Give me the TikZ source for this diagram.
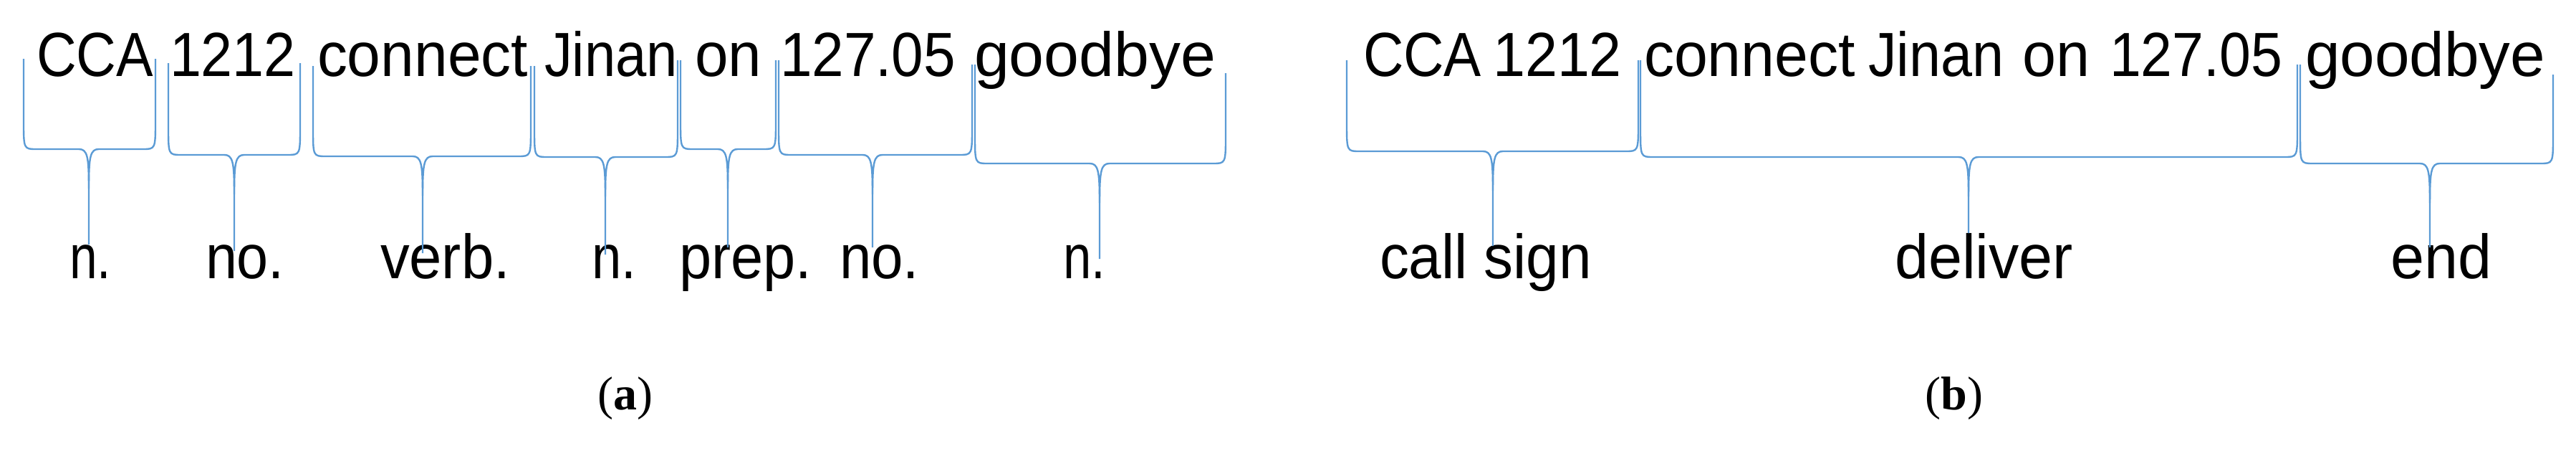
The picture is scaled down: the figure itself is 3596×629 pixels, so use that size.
\documentclass[tikz,border=0pt]{standalone}
\usepackage{fontspec}
\usepackage{graphicx}
\setmainfont{Liberation Sans}
\newfontfamily\capfont{Liberation Serif}
\definecolor{brblue}{RGB}{91,155,213}
\newcommand{\brc}[7]{%
  \draw[brc] (#1,#4) -- (#1,#6-40) .. controls (#1,#6) and (#1,#6) .. (#1+18,#6)
    -- (#3-14,#6) .. controls (#3-2,#6) and (#3,#6+10) .. (#3,#6+55) -- (#3,#7);
  \draw[brc] (#2,#5) -- (#2,#6-40) .. controls (#2,#6) and (#2,#6) .. (#2-18,#6)
    -- (#3+14,#6) .. controls (#3+2,#6) and (#3,#6+10) .. (#3,#6+55);}
\newcommand{\wrdn}[5]{\node[wrd] (#1) at (#2,#4) {\resizebox{#3pt}{\height}{#5}};}
\begin{document}
\begin{tikzpicture}[x=1pt,y=-1pt,
  brc/.style={draw=brblue,line width=2.4pt},
  wrd/.style={anchor=base west,inner sep=0pt,outer sep=0pt,font=\fontsize{87}{90}\selectfont}]
\useasboundingbox (0,0) rectangle (3596,629);
% (a) top words
\wrdn{a1}{51}{163}{106}{CCA}
\wrdn{a2}{237}{176}{106}{1212}
\wrdn{a3}{443}{294}{106}{connect}
\wrdn{a4}{760}{186}{106}{Jinan}
\wrdn{a5}{970}{93}{106}{on}
\wrdn{a6}{1089}{245}{106}{127.05}
\wrdn{a7}{1360}{337}{106}{goodbye}
% (a) labels
\wrdn{l1}{97}{58}{388}{n.}
\wrdn{l2}{287}{110}{388}{no.}
\wrdn{l3}{531}{181}{388}{verb.}
\wrdn{l4}{826}{62}{388}{n.}
\wrdn{l5}{948}{185}{388}{prep.}
\wrdn{l6}{1172}{111}{388}{no.}
\wrdn{l7}{1484}{59}{388}{n.}
% (a) braces
\brc{33}{217}{124}{82}{82}{208}{341}
\brc{235}{419}{327}{88}{88}{216}{350}
\brc{437}{741}{590}{92}{92}{218}{353}
\brc{746}{946}{845}{92}{84}{219}{355}
\brc{950}{1083}{1016}{84}{84}{208}{345}
\brc{1087}{1357}{1218}{84}{90}{216}{345}
\brc{1361}{1711}{1535}{90}{102}{228}{361}
% (b) top words
\wrdn{b1}{1903}{165}{106}{CCA}
\wrdn{b2}{2084}{180}{106}{1212}
\wrdn{b3}{2295}{295}{106}{connect}
\wrdn{b4}{2608}{189}{106}{Jinan}
\wrdn{b5}{2823}{94}{106}{on}
\wrdn{b6}{2945}{241}{106}{127.05}
\wrdn{b7}{3218}{335}{106}{goodbye}
% (b) labels
\wrdn{m1}{1926}{296}{388}{call sign}
\wrdn{m2}{2645}{249}{388}{deliver}
\wrdn{m3}{3337}{141}{388}{end}
% (b) braces
\brc{1880}{2287}{2084}{84}{84}{211}{343}
\brc{2290}{3207}{2748}{84}{90}{219}{325}
\brc{3211}{3564}{3392}{90}{104}{228}{345}
% captions
\node[font=\capfont\fontsize{66}{70}\selectfont,inner sep=0pt] (capa) at (873,556) {(\textbf{a})};
\node[font=\capfont\fontsize{66}{70}\selectfont,inner sep=0pt] (capb) at (2728,556) {(\textbf{b})};
\end{tikzpicture}
\end{document}
